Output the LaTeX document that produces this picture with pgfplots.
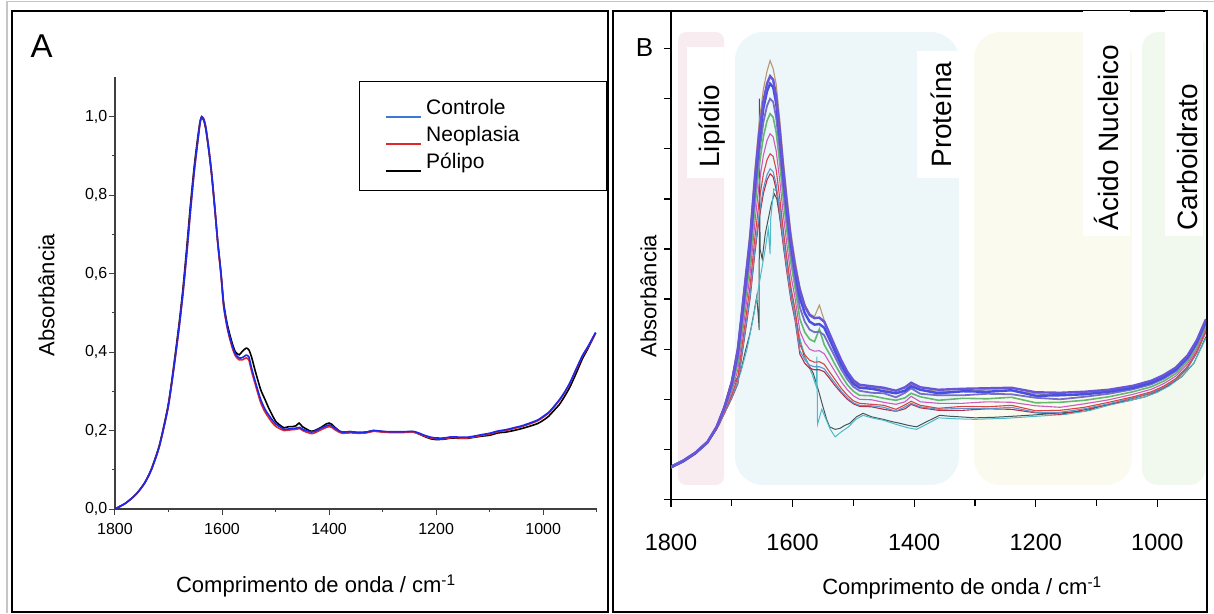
\documentclass[border=0pt]{standalone}
\usepackage{pgfplots}
\usepackage{pgfplotstable}
\pgfplotsset{compat=1.18}
\usepackage{fontspec}
\setmainfont{Liberation Sans}

\definecolor{cA}{RGB}{30,40,235}
\definecolor{cAleg}{RGB}{60,120,215}
\definecolor{nA}{RGB}{225,40,40}
\definecolor{c1}{RGB}{105,85,215}
\definecolor{c2}{RGB}{70,80,225}
\definecolor{c3}{RGB}{120,110,200}
\definecolor{c4}{RGB}{100,185,110}
\definecolor{c5}{RGB}{185,150,110}
\definecolor{c6}{RGB}{205,90,190}
\definecolor{c7}{RGB}{215,70,70}
\definecolor{c8}{RGB}{185,45,70}
\definecolor{c9}{RGB}{95,150,205}
\definecolor{cdark}{RGB}{70,85,85}
\definecolor{ccyan}{RGB}{80,185,200}
\definecolor{bgpink}{RGB}{249,236,240}
\definecolor{bgblue}{RGB}{237,247,250}
\definecolor{bgyel}{RGB}{250,250,238}
\definecolor{bggreen}{RGB}{241,248,238}

\pgfplotstableread{
x c1 c2 c3 c4 c5 c6 c7 c8 c9
1800 .065 .064 .066 .065 .063 .066 .064 .065 .067
1780 .077 .076 .078 .077 .075 .078 .076 .077 .079
1760 .093 .092 .094 .093 .091 .094 .092 .093 .095
1740 .115 .114 .116 .114 .113 .115 .113 .114 .116
1725 .145 .144 .145 .143 .144 .143 .141 .141 .143
1712 .185 .184 .182 .180 .187 .177 .175 .172 .173
1700 .235 .232 .227 .222 .239 .216 .209 .202 .204
1690 .300 .295 .284 .273 .309 .259 .245 .231 .234
1680 .410 .403 .388 .374 .422 .354 .335 .315 .320
1670 .520 .511 .492 .474 .536 .449 .425 .400 .406
1662 .640 .628 .606 .583 .659 .553 .523 .492 .500
1655 .730 .717 .691 .665 .752 .631 .596 .561 .570
1648 .795 .781 .753 .724 .819 .687 .650 .611 .621
1642 .830 .815 .786 .756 .855 .717 .678 .638 .648
1637 .845 .830 .800 .770 .876 .730 .690 .650 .660
1632 .838 .823 .794 .763 .860 .724 .685 .644 .654
1627 .805 .791 .762 .733 .829 .696 .658 .619 .629
1621 .735 .722 .696 .670 .757 .635 .600 .565 .574
1615 .655 .643 .620 .597 .675 .566 .535 .504 .512
1609 .585 .574 .554 .533 .603 .505 .478 .450 .457
1603 .520 .511 .492 .474 .536 .449 .425 .400 .406
1596 .465 .457 .440 .424 .479 .402 .380 .358 .363
1588 .418 .402 .383 .360 .424 .336 .309 .290 .297
1580 .386 .372 .355 .334 .390 .313 .289 .272 .279
1572 .368 .355 .339 .320 .371 .300 .278 .262 .268
1564 .362 .349 .334 .315 .365 .296 .274 .259 .265
1556 .363 .350 .335 .340 .388 .297 .275 .259 .265
1548 .355 .343 .328 .309 .358 .291 .270 .255 .261
1540 .333 .322 .308 .292 .334 .275 .256 .243 .248
1530 .305 .295 .284 .269 .305 .255 .239 .227 .232
1520 .278 .269 .260 .248 .277 .235 .222 .213 .216
1510 .255 .248 .240 .229 .252 .219 .208 .200 .203
1500 .238 .231 .225 .216 .235 .207 .197 .191 .193
1490 .229 .223 .217 .208 .225 .200 .192 .186 .188
1470 .226 .221 .213 .207 .223 .199 .190 .185 .187
1450 .223 .216 .212 .202 .220 .194 .188 .180 .184
1430 .217 .212 .204 .198 .212 .190 .180 .176 .176
1415 .224 .217 .213 .203 .219 .195 .189 .181 .185
1405 .233 .226 .222 .212 .230 .206 .196 .190 .192
1390 .224 .219 .211 .205 .219 .195 .188 .183 .185
1360 .219 .212 .208 .198 .216 .192 .182 .178 .180
1320 .221 .216 .208 .202 .216 .192 .186 .178 .182
1280 .222 .215 .211 .201 .219 .195 .185 .181 .181
1240 .223 .218 .210 .204 .218 .194 .188 .180 .184
1200 .214 .207 .203 .193 .211 .187 .177 .173 .174
1160 .213 .208 .200 .194 .208 .184 .178 .170 .174
1120 .215 .210 .205 .198 .212 .191 .184 .179 .181
1080 .219 .215 .211 .205 .216 .199 .194 .190 .191
1040 .227 .223 .220 .215 .225 .210 .205 .202 .203
1010 .237 .233 .230 .225 .235 .220 .215 .212 .213
990 .248 .244 .241 .236 .246 .231 .226 .223 .224
970 .263 .259 .256 .251 .261 .246 .241 .238 .239
950 .288 .284 .281 .276 .286 .271 .266 .263 .264
935 .318 .314 .311 .306 .316 .301 .296 .293 .294
920 .360 .356 .353 .348 .358 .343 .338 .335 .336
}\spectraB

\begin{document}
\begin{tikzpicture}[x=1pt,y=1pt]
\path[use as bounding box] (0,0) rectangle (1214,613);
% outer light frame
\draw[gray!45,line width=1.2pt] (7,0) -- (7,611.3) -- (1214,611.3);
% panel frames
\draw[black,line width=2pt] (11.7,1.3) rectangle (608,602);
\draw[black,line width=2pt] (613,1.3) rectangle (1206.7,601.5);
\node[font=\fontsize{33}{36}\selectfont,inner sep=0] at (41.7,567.2) {A};
\node[font=\fontsize{26}{30}\selectfont,inner sep=0] at (644.5,565) {B};

%================ Panel A
\begin{axis}[
  at={(115pt,104pt)}, anchor=south west,
  scale only axis, width=481.7pt, height=431.6pt,
  xmin=900, xmax=1800, ymin=0, ymax=1.1, x dir=reverse,
  axis x line*=bottom, axis y line*=left,
  axis line style={-, line width=1.2pt, black!75},
  tick align=outside,
  major tick length=6pt, minor tick length=3pt,
  every tick/.style={black!75, line width=1pt},
  xtick={1800,1600,1400,1200,1000},
  xticklabels={1800,1600,1400,1200,1000},
  minor xtick={1700,1500,1300,1100,900},
  ytick={0,0.2,0.4,0.6,0.8,1.0},
  yticklabels={{0,0},{0,2},{0,4},{0,6},{0,8},{1,0}},
  minor ytick={0.1,0.3,0.5,0.7,0.9},
  xticklabel style={font=\fontsize{16}{19}\selectfont, yshift=-5pt},
  yticklabel style={font=\fontsize{16}{19}\selectfont, inner xsep=1.5pt},
  xlabel={Comprimento de onda / cm\textsuperscript{-1}},
  ylabel={Absorbância},
  xlabel style={font=\fontsize{22}{26}\selectfont, at={(axis description cs:0.417,-0.178)}, anchor=center},
  ylabel style={font=\fontsize{22}{26}\selectfont, at={(axis description cs:-0.142,0.496)}, anchor=center, rotate=0},
  legend style={at={(axis description cs:0.5065,0.9917)}, anchor=north west,
    draw=black, line width=1.3pt, inner xsep=26pt, inner ysep=14pt,
    font=\fontsize{21}{25}\selectfont,
    nodes={text height=15pt, text depth=5pt, inner ysep=3.5pt, inner xsep=4pt}},
  legend cell align=left,
  legend image code/.code={\draw[#1, line width=1.6pt] (0pt,-8pt) -- (35pt,-8pt);},
]
\addlegendimage{cAleg}
\addlegendentry{\makebox[150pt][l]{Controle}}
\addlegendimage{nA}
\addlegendentry{\makebox[150pt][l]{Neoplasia}}
\addlegendimage{black}
\addlegendentry{\makebox[150pt][l]{Pólipo}}

\addplot[forget plot, black, line width=1.6pt, smooth, tension=0.4] coordinates {
(1800,0.000) (1780,0.015) (1761,0.037) (1745,0.066) (1732,0.102) (1717,0.163) (1702,0.255) (1695,0.316) (1688,0.388) (1680,0.475) (1673,0.562) (1666,0.665) (1659,0.775) (1652,0.872) (1646,0.940) (1641,0.988) (1638,0.998) (1634,0.990) (1630,0.965) (1624,0.905) (1619,0.845) (1613,0.757) (1608,0.680) (1602,0.602) (1597,0.525) (1591,0.476) (1586,0.447) (1580,0.418) (1575,0.400) (1568,0.393) (1562,0.402) (1555,0.410) (1550,0.406) (1545,0.388) (1538,0.352) (1528,0.305) (1520,0.280) (1513,0.258) (1505,0.236) (1499,0.222) (1490,0.212) (1484,0.207) (1475,0.210) (1468,0.210) (1462,0.212) (1456,0.219) (1450,0.210) (1440,0.202) (1433,0.198) (1425,0.201) (1415,0.208) (1405,0.217) (1400,0.219) (1395,0.216) (1389,0.208) (1380,0.198) (1375,0.196) (1360,0.197) (1346,0.195) (1330,0.196) (1317,0.200) (1300,0.197) (1288,0.196) (1260,0.196) (1244,0.197) (1235,0.193) (1222,0.185) (1210,0.179) (1200,0.177) (1185,0.178) (1171,0.181) (1155,0.180) (1142,0.180) (1128,0.183) (1113,0.186) (1100,0.188) (1084,0.194) (1070,0.196) (1055,0.200) (1040,0.205) (1025,0.211) (1010,0.218) (1000,0.226) (990,0.236) (982,0.248) (970,0.266) (960,0.287) (950,0.311) (938,0.347) (927,0.382) (916,0.410) (908,0.432) (902,0.449)};
\addplot[forget plot, nA, line width=1.6pt, smooth, tension=0.4] coordinates {
(1800,0.000) (1780,0.015) (1761,0.037) (1745,0.065) (1732,0.100) (1717,0.160) (1702,0.250) (1695,0.310) (1688,0.380) (1680,0.465) (1673,0.550) (1666,0.650) (1659,0.760) (1652,0.860) (1646,0.930) (1641,0.985) (1638,1.000) (1634,0.993) (1630,0.970) (1624,0.910) (1619,0.850) (1613,0.760) (1608,0.678) (1602,0.596) (1597,0.516) (1591,0.466) (1586,0.436) (1580,0.407) (1575,0.390) (1568,0.380) (1562,0.380) (1555,0.385) (1550,0.380) (1545,0.352) (1538,0.318) (1528,0.272) (1520,0.248) (1513,0.233) (1505,0.218) (1499,0.210) (1490,0.203) (1484,0.200) (1470,0.202) (1462,0.203) (1455,0.205) (1448,0.199) (1440,0.195) (1433,0.192) (1425,0.195) (1415,0.202) (1405,0.208) (1400,0.210) (1395,0.208) (1389,0.202) (1380,0.195) (1375,0.193) (1360,0.194) (1346,0.193) (1330,0.194) (1317,0.198) (1300,0.196) (1288,0.195) (1260,0.195) (1244,0.196) (1235,0.193) (1222,0.186) (1210,0.181) (1200,0.179) (1185,0.179) (1171,0.182) (1155,0.181) (1142,0.181) (1128,0.184) (1113,0.188) (1100,0.191) (1084,0.197) (1070,0.200) (1055,0.205) (1040,0.210) (1025,0.217) (1010,0.225) (1000,0.234) (990,0.244) (982,0.256) (970,0.276) (960,0.296) (950,0.320) (938,0.356) (927,0.388) (916,0.413) (908,0.433) (902,0.448)};
\addplot[forget plot, cA, line width=1.6pt, smooth, tension=0.4] coordinates {
(1800,0.000) (1780,0.015) (1761,0.037) (1745,0.065) (1732,0.100) (1717,0.160) (1702,0.250) (1695,0.310) (1688,0.380) (1680,0.465) (1673,0.550) (1666,0.650) (1659,0.760) (1652,0.860) (1646,0.930) (1641,0.985) (1638,1.000) (1634,0.993) (1630,0.970) (1624,0.910) (1619,0.850) (1613,0.760) (1608,0.680) (1602,0.600) (1597,0.520) (1591,0.470) (1586,0.440) (1580,0.412) (1575,0.395) (1568,0.385) (1562,0.386) (1555,0.392) (1550,0.388) (1545,0.360) (1538,0.325) (1528,0.280) (1520,0.255) (1513,0.240) (1505,0.225) (1499,0.216) (1490,0.208) (1484,0.203) (1470,0.205) (1462,0.206) (1455,0.208) (1448,0.202) (1440,0.199) (1433,0.196) (1425,0.199) (1415,0.206) (1405,0.212) (1400,0.214) (1395,0.212) (1389,0.206) (1380,0.198) (1375,0.196) (1360,0.197) (1346,0.195) (1330,0.196) (1317,0.200) (1300,0.198) (1288,0.197) (1260,0.197) (1244,0.198) (1235,0.195) (1222,0.188) (1210,0.183) (1200,0.181) (1185,0.181) (1171,0.184) (1155,0.183) (1142,0.183) (1128,0.186) (1113,0.190) (1100,0.193) (1084,0.199) (1070,0.202) (1055,0.207) (1040,0.212) (1025,0.219) (1010,0.227) (1000,0.236) (990,0.246) (982,0.258) (970,0.278) (960,0.298) (950,0.322) (938,0.358) (927,0.390) (916,0.415) (908,0.435) (902,0.450)};
\end{axis}

%================ Panel B
\begin{axis}[
  at={(671pt,113.5pt)}, anchor=south west,
  scale only axis, width=535pt, height=488.5pt,
  xmin=920, xmax=1800, ymin=0, ymax=0.975, x dir=reverse,
  axis x line*=bottom, axis y line*=left,
  axis line style={-, line width=1.6pt, black},
  tick align=outside,
  major tick length=7pt, minor tick length=6pt,
  every tick/.style={black, line width=1.3pt},
  xtick={1800,1600,1400,1200,1000},
  xticklabels={1800,1600,1400,1200,1000},
  minor xtick={1700,1500,1300,1100},
  ytick={0,0.1,0.2,0.3,0.4,0.5,0.6,0.7,0.8,0.9},
  yticklabels={},
  xticklabel style={font=\fontsize{23.5}{27}\selectfont, yshift=-24pt},
  xlabel={Comprimento de onda / cm\textsuperscript{-1}},
  ylabel={Absorbância},
  xlabel style={font=\fontsize{22}{26}\selectfont, at={(axis description cs:0.544,-0.181)}, anchor=center},
  ylabel style={font=\fontsize{22}{26}\selectfont, at={(axis description cs:-0.042,0.4166)}, anchor=center},
]
% region backgrounds
\fill[bgpink, rounded corners=8pt] (axis cs:1788.5,0.029) rectangle (axis cs:1712.8,0.933);
\fill[bgblue, rounded corners=28pt] (axis cs:1694.7,0.029) rectangle (axis cs:1326.3,0.933);
\fill[bgyel, rounded corners=26pt] (axis cs:1301.6,0.029) rectangle (axis cs:1041.8,0.933);
\fill[bggreen, rounded corners=16pt] (axis cs:1025.3,0.029) rectangle (axis cs:921,0.933);
% label boxes
\fill[white] (axis cs:1773.7,0.642) rectangle (axis cs:1713.5,0.903);
\fill[white] (axis cs:1395.4,0.642) rectangle (axis cs:1327,0.895);
\fill[white] (axis cs:1122.4,0.525) rectangle (axis cs:1045,0.975);
\fill[white] (axis cs:988,0.525) rectangle (axis cs:925,0.975);
\node[rotate=90, anchor=west, inner sep=0, font=\fontsize{28}{30}\selectfont] at (axis cs:1732.6,0.662) {Lipídio};
\node[rotate=90, anchor=west, inner sep=0, font=\fontsize{28}{30}\selectfont] at (axis cs:1355.9,0.662) {Proteína};
\node[rotate=90, anchor=west, inner sep=0, font=\fontsize{28}{30}\selectfont] at (axis cs:1082.9,0.537) {Ácido Nucleico};
\node[rotate=90, anchor=west, inner sep=0, font=\fontsize{28}{30}\selectfont] at (axis cs:949.7,0.537) {Carboidrato};

% spectra
\addplot[cdark, line width=1pt] coordinates {
(1800,.064) (1780,.075) (1760,.091) (1740,.112) (1725,.140) (1712,.175) (1703,.212) (1695,.235) (1686,.252) (1678,.295) (1670,.332) (1664,.370) (1659,.405) (1656,.360) (1655,.338) (1654.5,.800) (1653.5,.500) (1650,.480) (1645,.530) (1640,.560) (1635,.590) (1630,.610) (1626,.600) (1622,.570) (1616,.518) (1608,.450) (1599,.385) (1590,.330) (1582,.290) (1574,.270) (1566,.252) (1558,.220) (1550,.185) (1544,.160) (1539,.145) (1530,.140) (1522,.142) (1514,.148) (1506,.152) (1495,.165) (1484,.172) (1470,.165) (1451,.160) (1435,.155) (1423,.152) (1410,.148) (1396,.145) (1380,.155) (1358,.168) (1340,.166) (1325,.165) (1300,.163) (1270,.164) (1240,.166) (1200,.169) (1170,.172) (1146,.174) (1120,.176) (1094,.186) (1070,.192) (1044,.198) (1020,.205) (1000,.215) (980,.228) (960,.245) (940,.272) (920,.325)};
\addplot[ccyan, line width=1pt] coordinates {
(1800,.066) (1760,.092) (1740,.113) (1720,.150) (1705,.195) (1695,.222) (1685,.255) (1675,.300) (1665,.360) (1655,.430) (1645,.500) (1640,.540) (1637,.490) (1636,.560) (1631,.620) (1626,.615) (1620,.580) (1612,.500) (1604,.430) (1596,.370) (1588,.320) (1578,.280) (1568,.250) (1561,.225) (1560,.285) (1559,.150) (1552,.180) (1545,.160) (1538,.140) (1530,.125) (1520,.135) (1508,.145) (1496,.160) (1484,.168) (1470,.163) (1450,.158) (1430,.150) (1410,.143) (1396,.140) (1380,.150) (1360,.163) (1330,.161) (1300,.160) (1250,.162) (1200,.166) (1150,.170) (1110,.178) (1080,.188) (1050,.196) (1020,.205) (1000,.214) (980,.227) (960,.246) (940,.272) (920,.322)};
\addplot[c8, line width=1.1pt] table[x=x,y=c8] {\spectraB};
\addplot[c9, line width=1.1pt] table[x=x,y=c9] {\spectraB};
\addplot[c7, line width=1.1pt] table[x=x,y=c7] {\spectraB};
\addplot[c6, line width=1.1pt] table[x=x,y=c6] {\spectraB};
\addplot[c4, line width=1.6pt] table[x=x,y=c4] {\spectraB};
\addplot[c3, line width=1.8pt] table[x=x,y=c3] {\spectraB};
\addplot[c5, line width=1.1pt] table[x=x,y=c5] {\spectraB};
\addplot[c2, line width=2.4pt] table[x=x,y=c2] {\spectraB};
\addplot[c1, line width=2.4pt] table[x=x,y=c1] {\spectraB};
\end{axis}
\end{tikzpicture}
\end{document}
